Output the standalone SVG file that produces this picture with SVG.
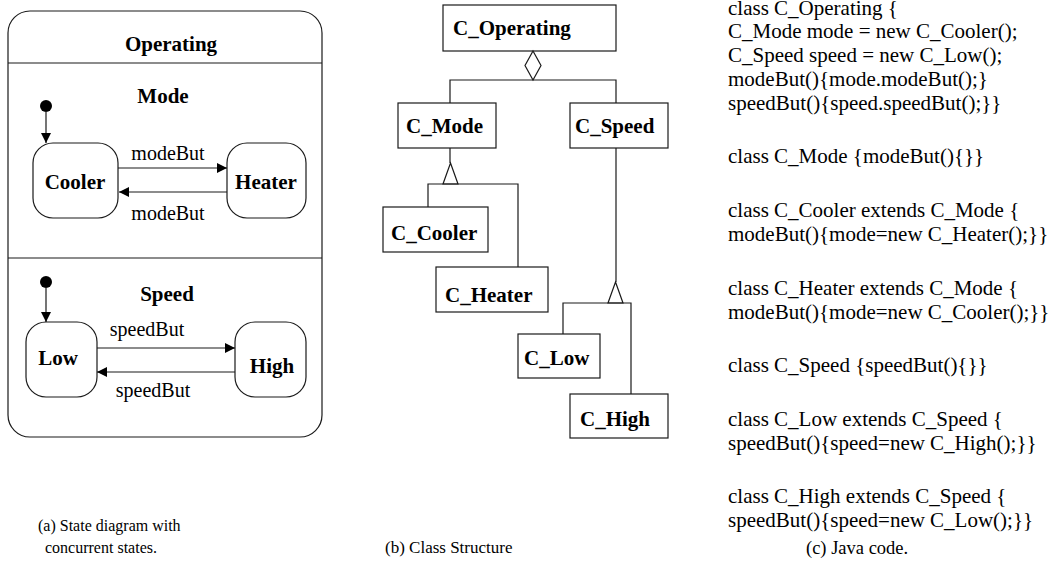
<svg xmlns="http://www.w3.org/2000/svg" width="1048" height="571" viewBox="0 0 1048 571" font-family="Liberation Serif, Times New Roman, Times, serif">
  <style>
    .box { fill: #fff; stroke: #1a1a1a; stroke-width: 1.2; }
    .ln { fill: none; stroke: #1a1a1a; stroke-width: 1.2; }
    .b { font-weight: bold; font-size: 21px; fill: #000; }
    .r { font-size: 20px; fill: #000; }
    .code { font-size: 21px; fill: #000; }
    .cap { fill: #000; }
    .mid { text-anchor: middle; }
  </style>
  <defs>
    <marker id="arrow" viewBox="0 0 10 10" refX="10" refY="5" markerWidth="10" markerHeight="10" markerUnits="userSpaceOnUse" orient="auto">
      <path d="M0,0 L10,5 L0,10 Z" fill="#000"/>
    </marker>
  </defs>

  <!-- (a) state diagram -->
  <g id="state-operating">
    <rect class="box" x="8" y="11" width="314" height="426" rx="22"/>
    <line class="ln" x1="8" y1="63" x2="322" y2="63"/>
    <line class="ln" x1="8" y1="258" x2="322" y2="258"/>
    <text class="b mid" x="171" y="51">Operating</text>
    <text class="b mid" x="163" y="103">Mode</text>
    <text class="b mid" x="167" y="301">Speed</text>
  </g>
  <g id="init-mode"><circle cx="46" cy="106" r="6" fill="#000"/></g>
  <g id="init-speed"><circle cx="46" cy="282" r="6" fill="#000"/></g>
  <g id="state-cooler">
    <rect class="box" x="33" y="143" width="85" height="75" rx="20"/>
    <text class="b mid" x="75" y="189">Cooler</text>
  </g>
  <g id="state-heater">
    <rect class="box" x="227" y="143" width="79" height="75" rx="20"/>
    <text class="b mid" x="266" y="189">Heater</text>
  </g>
  <g id="state-low">
    <rect class="box" x="26" y="322" width="71" height="75" rx="20"/>
    <text class="b mid" x="58" y="365">Low</text>
  </g>
  <g id="state-high">
    <rect class="box" x="235" y="322" width="71" height="75" rx="20"/>
    <text class="b mid" x="272" y="373">High</text>
  </g>

  <g id="transitions">
    <line class="ln" x1="46" y1="112" x2="46" y2="143" marker-end="url(#arrow)"/>
    <line class="ln" x1="118" y1="168" x2="227" y2="168" marker-end="url(#arrow)"/>
    <line class="ln" x1="227" y1="192" x2="119" y2="192" marker-end="url(#arrow)"/>
    <line class="ln" x1="46" y1="288" x2="46" y2="322" marker-end="url(#arrow)"/>
    <line class="ln" x1="97" y1="348" x2="235" y2="348" marker-end="url(#arrow)"/>
    <line class="ln" x1="235" y1="372" x2="97" y2="372" marker-end="url(#arrow)"/>
    <text class="r mid" x="168" y="160">modeBut</text>
    <text class="r mid" x="168" y="220">modeBut</text>
    <text class="r mid" x="147" y="336">speedBut</text>
    <text class="r mid" x="153" y="397">speedBut</text>
  </g>

  <!-- (b) class structure -->
  <g id="class-operating">
    <rect class="box" x="443" y="5" width="173" height="46"/>
    <text class="b" x="453" y="35">C_Operating</text>
  </g>
  <g id="class-mode">
    <rect class="box" x="398" y="103" width="98" height="45"/>
    <text class="b" x="406" y="133">C_Mode</text>
  </g>
  <g id="class-speed">
    <rect class="box" x="570" y="103" width="98" height="45"/>
    <text class="b" x="575" y="133">C_Speed</text>
  </g>
  <g id="class-cooler">
    <rect class="box" x="383" y="207" width="105" height="45"/>
    <text class="b" x="391" y="240">C_Cooler</text>
  </g>
  <g id="class-heater">
    <rect class="box" x="436" y="267" width="112" height="45"/>
    <text class="b" x="445" y="302">C_Heater</text>
  </g>
  <g id="class-low">
    <rect class="box" x="518" y="334" width="82" height="44"/>
    <text class="b" x="524" y="365">C_Low</text>
  </g>
  <g id="class-high">
    <rect class="box" x="570" y="394" width="98" height="44"/>
    <text class="b" x="580" y="426">C_High</text>
  </g>

  <g id="relations">
    <!-- aggregation -->
    <path class="box" d="M533,51 L541,65.5 L533,80 L525,65.5 Z"/>
    <polyline class="ln" points="450,103 450,80 616,80 616,103"/>
    <!-- C_Mode generalisation -->
    <line class="ln" x1="450" y1="148" x2="450" y2="163"/>
    <path class="box" d="M450.5,163 L458,184 L443,184 Z"/>
    <polyline class="ln" points="428,207 428,184 518,184 518,267"/>
    <!-- C_Speed generalisation -->
    <line class="ln" x1="616" y1="148" x2="616" y2="282"/>
    <path class="box" d="M615.5,282 L623,303 L608,303 Z"/>
    <polyline class="ln" points="563,334 563,303 631,303 631,394"/>
  </g>

  <!-- (c) Java code -->
  <g id="code">
    <text class="code" x="728" y="15">class C_Operating {</text>
    <text class="code" x="728" y="38">C_Mode mode = new C_Cooler();</text>
    <text class="code" x="728" y="62">C_Speed speed = new C_Low();</text>
    <text class="code" x="728" y="86">modeBut(){mode.modeBut();}</text>
    <text class="code" x="728" y="110">speedBut(){speed.speedBut();}}</text>
    <text class="code" x="728" y="163">class C_Mode {modeBut(){}}</text>
    <text class="code" x="728" y="217">class C_Cooler extends C_Mode {</text>
    <text class="code" x="728" y="241">modeBut(){mode=new C_Heater();}}</text>
    <text class="code" x="728" y="295">class C_Heater extends C_Mode {</text>
    <text class="code" x="728" y="319">modeBut(){mode=new C_Cooler();}}</text>
    <text class="code" x="728" y="372">class C_Speed {speedBut(){}}</text>
    <text class="code" x="728" y="426">class C_Low extends C_Speed {</text>
    <text class="code" x="728" y="450">speedBut(){speed=new C_High();}}</text>
    <text class="code" x="728" y="503">class C_High extends C_Speed {</text>
    <text class="code" x="728" y="527">speedBut(){speed=new C_Low();}}</text>
  </g>

  <g id="captions">
    <text class="cap" x="38" y="531" font-size="16">(a) State diagram with</text>
    <text class="cap" x="45" y="553" font-size="16">concurrent states.</text>
    <text class="cap" x="385" y="553" font-size="17">(b) Class Structure</text>
    <text class="cap" x="806" y="554" font-size="18.5">(c) Java code.</text>
  </g>
</svg>
